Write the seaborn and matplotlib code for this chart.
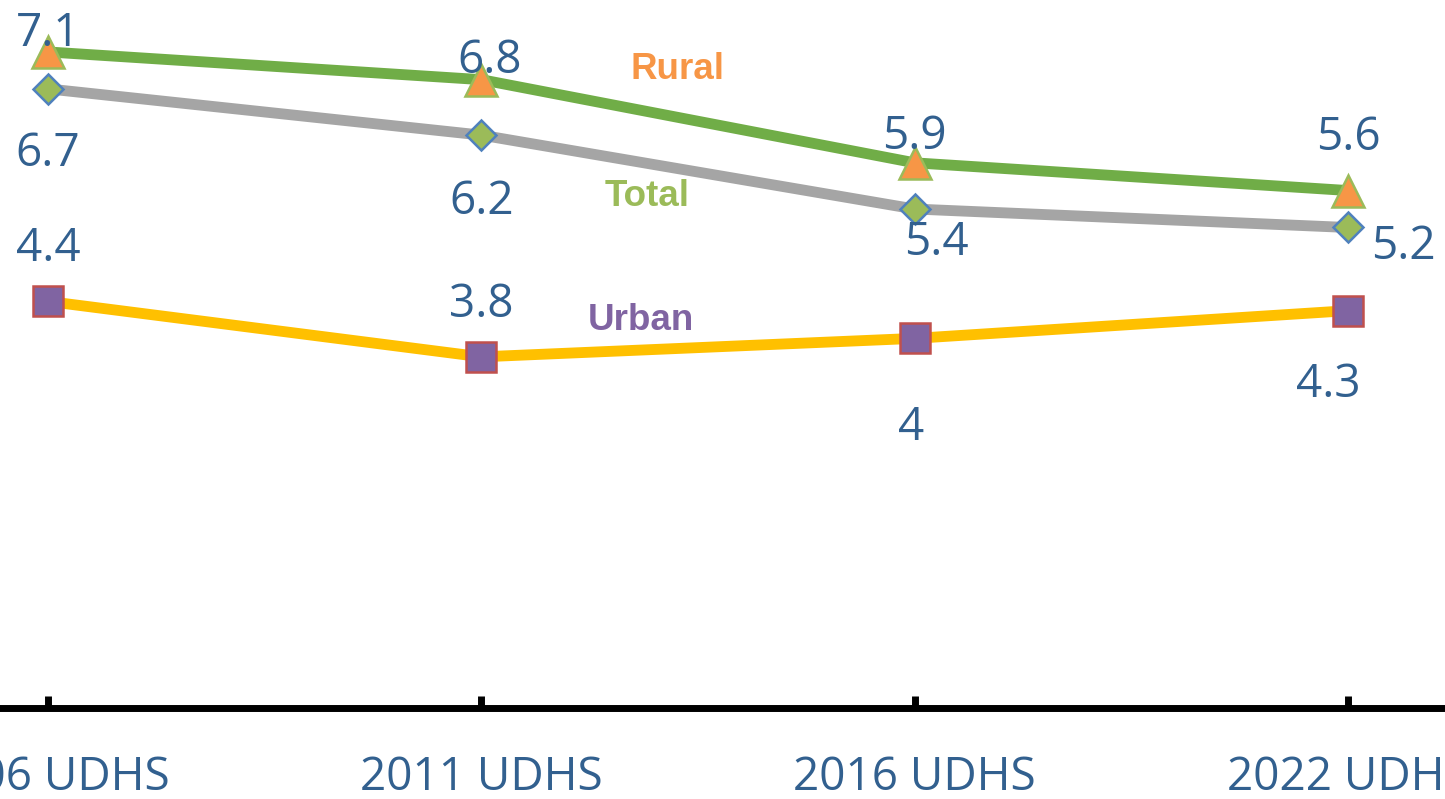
import pandas as pd
import matplotlib
matplotlib.use("Agg")
import matplotlib.pyplot as plt
import seaborn as sns

surveys = ["2006 UDHS", "2011 UDHS", "2016 UDHS", "2022 UDHS"]
rural = [7.1, 6.8, 5.9, 5.6]
total = [6.7, 6.2, 5.4, 5.2]
urban = [4.4, 3.8, 4.0, 4.3]
value_text = {"Rural": ["7.1", "6.8", "5.9", "5.6"],
              "Total": ["6.7", "6.2", "5.4", "5.2"],
              "Urban": ["4.4", "3.8", "4", "4.3"]}

# label offsets from the point, in pixels (dx, dy up)
label_off = {"Rural": [(0, 22), (8, 23), (0, 30), (0, 57)],
             "Total": [(0, -61), (0, -62), (22, -29), (55, -15)],
             "Urban": [(0, 57), (0, 56), (-4, -85), (-20, -70)]}

series_names = ["Rural", "Total", "Urban"]
name_pos = {"Rural": (1.452, 6.915), "Total": (1.382, 5.535), "Urban": (1.368, 4.19)}

df = pd.DataFrame({"x": list(range(len(surveys))) * 3,
                   "value": rural + total + urban,
                   "area": ["Rural"] * 4 + ["Total"] * 4 + ["Urban"] * 4})

styles = {
    "Total": dict(color="#A5A5A5", marker="D", ms=15.5, mfc="#9BBB59", mec="#4F81BD", name_c="#9BBB59"),
    "Rural": dict(color="#70AD47", marker="^", ms=23, mfc="#F79646", mec="#9BBB59", name_c="#F79646"),
    "Urban": dict(color="#FFC000", marker="s", ms=22, mfc="#8064A2", mec="#C0504D", name_c="#8064A2"),
}

sns.set_style("white")
plt.rcParams["font.family"] = ["Open Sans", "DejaVu Sans"]

fig = plt.figure(figsize=(14.45, 7.99), dpi=100)
ax = fig.add_axes([0, 0.1139, 1, 0.8861])

for name in ["Total", "Rural", "Urban"]:
    st = styles[name]
    sub = df[df.area == name]
    sns.lineplot(data=sub, x="x", y="value", ax=ax, color=st["color"], linewidth=7.8,
                 marker=st["marker"], markersize=st["ms"], markerfacecolor=st["mfc"],
                 markeredgecolor=st["mec"], markeredgewidth=1.8, clip_on=False)

lab_color = "#32608F"
for name in series_names:
    vals = df[df.area == name]["value"].tolist()
    for i, v in enumerate(vals):
        dx, dy = label_off[name][i]
        ax.annotate(value_text[name][i], (i, v), xytext=(dx, dy - 16.5),
                    textcoords="offset pixels", ha="center", va="baseline",
                    fontsize=33, color=lab_color)
    px, py = name_pos[name]
    ax.text(px, py, name, ha="center", va="center", fontsize=26.5, fontweight="bold",
            family="Liberation Sans", color=styles[name]["name_c"])

ax.set_xlim(-0.1108, 3.224)
ax.set_ylim(0, 7.662)
ax.set_xticks(range(len(surveys)))
ax.set_xticklabels(surveys)
ax.set_yticks([])
ax.set_xlabel("")
ax.set_ylabel("")
for s in ["top", "left", "right"]:
    ax.spines[s].set_visible(False)
ax.spines["bottom"].set_color("black")
ax.spines["bottom"].set_linewidth(5)
ax.tick_params(axis="x", direction="in", length=9, width=5, color="black",
               labelsize=33, labelcolor=lab_color, pad=34, bottom=True)
ax.patch.set_alpha(0)

fig.savefig("out.png", dpi=100)
